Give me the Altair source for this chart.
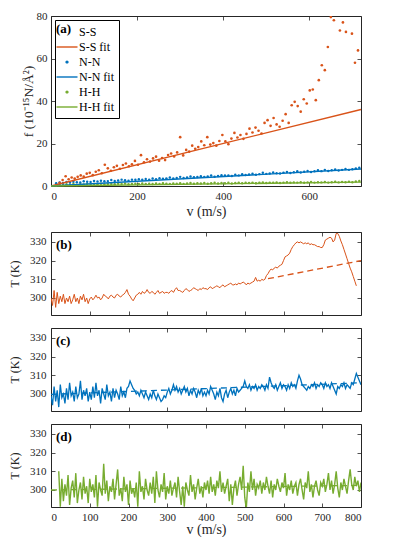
import altair as alt
import pandas as pd

ORANGE = "#D95319"
BLUE = "#0072BD"
GREEN = "#77AC30"
AX = "#262626"
FONT = "Liberation Serif"

# ---------------- panel (a) data ----------------
ss_v = list(range(20, 720, 7))
ss_f = [1.5, 2.8, 4.6, 3.2, 4.0, 3.5, 4.3, 5.0, 4.4, 5.8,
        6.2, 5.1, 6.7, 7.4, 6.0, 10.0, 8.3, 7.2, 8.8, 9.5,
        8.1, 9.9, 10.6, 9.3, 10.2, 11.8, 10.0, 14.5, 11.2, 12.6,
        11.5, 13.0, 13.8, 11.9, 13.2, 12.2, 14.6, 15.3, 13.9, 15.8,
        23.0, 14.4, 17.0, 16.2, 19.0, 17.5, 18.3, 21.0, 19.2, 23.0,
        19.5, 20.2, 19.0, 21.2, 24.0, 21.0, 19.7, 22.3, 25.0, 22.8,
        24.0, 22.2, 24.5, 27.0, 25.2, 27.5, 26.0, 24.7, 29.7, 31.0,
        28.3, 32.0, 29.0, 27.9, 30.7, 33.8, 29.7, 38.0, 39.6, 37.6,
        35.0, 40.8, 38.8, 45.0, 45.4, 40.4, 49.8, 56.8, 54.5, 65.4,
        79.5, 78.0, 83.0, 73.2, 77.0, 72.5, 86.0, 71.7, 58.0, 63.8]

nn_v = list(range(12, 720, 8))
nn_f = [1.3, 1.7, 1.4, 1.9, 1.6, 2.0, 1.8, 1.7, 2.2, 2.0, 1.9, 2.4, 2.1, 2.5, 2.2, 2.3, 2.8, 2.4, 2.6, 3.0, 2.7, 2.5, 3.0, 2.9, 3.2,
        2.9, 3.3, 3.0, 3.5, 3.2, 3.7, 3.4, 3.6, 4.0, 3.5, 3.8, 4.3, 3.8, 4.0, 4.5, 4.1, 4.2, 4.6, 4.3, 4.5, 4.9, 4.4, 4.7, 5.1, 4.9,
        5.0, 4.7, 5.3, 5.0, 5.5, 5.2, 5.4, 5.8, 5.3, 5.6, 6.2, 5.7, 5.9, 6.4, 6.0, 5.9, 6.3, 6.6, 6.1, 6.5, 6.9, 6.4, 6.7, 7.1, 6.6,
        6.9, 7.4, 7.0, 7.6, 7.1, 7.4, 7.8, 7.3, 7.6, 8.0, 7.6, 7.9, 8.3, 8.6]

hh_v = list(range(12, 720, 8))
hh_f = [0.4, 0.7, 0.5, 0.8, 0.6, 0.9, 0.5, 0.8, 0.7, 1.0, 0.6, 0.9, 0.8, 1.1, 0.7, 0.9, 1.0, 0.8, 1.1, 0.9, 1.2, 0.8, 1.0, 1.1, 0.9,
        1.2, 1.0, 1.1, 0.9, 1.2, 1.0, 1.3, 1.1, 1.0, 1.2, 1.1, 1.3, 1.0, 1.2, 1.4, 1.1, 1.3, 1.2, 1.4, 1.1, 1.3, 1.5, 1.2, 1.4, 1.3,
        1.5, 1.2, 1.4, 1.6, 1.3, 1.5, 1.4, 1.6, 1.3, 1.5, 1.7, 1.4, 1.6, 1.5, 1.7, 1.4, 1.6, 1.8, 1.5, 1.7, 1.6, 1.8, 1.5, 1.7, 1.9,
        1.6, 1.8, 1.7, 1.9, 1.6, 1.8, 2.0, 1.7, 1.9, 1.8, 2.0, 1.8, 2.1, 2.4]

fit_v = [0, 720]
ss_fit_f = [0.0, 36.0]
nn_fit_f = [0.0, 8.0]
hh_fit_f = [0.0, 1.8]

legend_names = ["S-S", "S-S fit", "N-N", "N-N fit", "H-H", "H-H fit"]
legend_colors = [ORANGE, ORANGE, BLUE, BLUE, GREEN, GREEN]

# ---------------- panels (b)-(d) data ----------------
tb_v = list(range(0, 792, 4))
tb_T = [300, 296, 304, 295, 303, 297, 301, 298, 302, 297, 300, 298, 301, 297, 299, 302, 298, 300, 297, 301, 299, 302, 298, 300, 297,
        299.5, 300.5, 299, 300, 301.5, 300, 300.5, 299, 300, 302, 301, 300.5, 299.5, 301, 301.5, 300.5, 300, 301.5, 302, 301, 300.5, 301.5, 302, 303, 304.5,
        302, 301, 299.5, 298.5, 300, 301.5, 302, 303, 302, 303.5, 302.5, 303, 304.5, 303, 302.5, 303.5, 303, 302, 303, 304, 302.5, 303, 303.5, 302.5, 303,
        303, 302.5, 303.5, 304, 303, 304.5, 305.5, 304, 304, 303.5, 303, 304, 305, 304.5, 303.5, 304, 304.5, 305.5, 305, 304.5, 304, 305, 304.5, 305.5, 305,
        305, 304.5, 305.5, 306, 305, 305.5, 306, 306.5, 306, 305.5, 306.5, 307, 306, 306.5, 307, 307.5, 308, 307, 307, 307.5, 307, 308, 307.5, 308, 308.5,
        308, 307, 308, 307.5, 308, 308.5, 309, 311, 309, 309.5, 309, 310, 309.5, 310, 312, 313, 314.5, 315.5, 315, 316, 316.5, 316, 317, 317.5, 318,
        320, 322, 322.5, 323, 324, 326, 327.5, 328.5, 329.5, 330, 329.5, 330, 329.5, 329, 329.5, 329, 329.5, 328.5, 329, 328.5, 328.5, 328, 327.5, 327.5, 327,
        327, 328.5, 331, 331.5, 332, 332.5, 332, 330, 331, 334.5, 334.5, 333, 330.5, 328.5, 326, 323.5, 321, 318.5, 316, 314, 311.5, 309, 306.5]
tb_fit_v = [560, 800]
tb_fit_T = [310.3, 320.0]

tc_v = list(range(0, 804, 4))
tc_T = [299, 294, 304, 296, 302, 293, 305, 298, 300, 295, 303, 297, 306, 299, 301, 296, 304, 298, 300, 307, 297, 302, 299, 303, 296,
        301, 297, 304, 298, 306, 299, 302, 295, 303, 300, 297, 305, 299, 301, 296, 303, 298, 302, 300, 297, 304, 299, 301, 298, 303,
        304, 307, 305, 303, 302, 300, 301, 299, 302, 300, 298, 301, 299, 297, 300, 298, 302, 299, 297, 300, 298, 296, 297, 299, 298,
        301, 303, 300, 302, 305, 302, 304, 301, 303, 300, 302, 304, 301, 303, 299, 302, 300, 303, 301, 298, 302, 300, 303, 299, 301,
        299, 302, 300, 304, 302, 300, 297, 301, 299, 303, 298, 296, 300, 302, 298, 301, 303, 300, 302, 299, 303, 301, 302, 303, 304,
        307, 304, 303, 305, 302, 304, 303, 305, 302, 304, 303, 305, 304, 302, 305, 303, 309, 306, 304, 303, 305, 302, 304, 306, 303,
        305, 304, 302, 305, 303, 306, 304, 305, 303, 307, 310, 308, 305, 304, 303, 302, 304, 303, 305, 304, 306, 303, 305, 304, 306,
        305, 303, 306, 304, 305, 303, 306, 304, 302, 300, 304, 303, 305, 304, 306, 303, 305, 304, 303, 306, 305, 308, 311, 309, 307, 305]
tc_fit_v = [0, 800]
tc_fit_T = [299.8, 306.0]

td_v = list(range(20, 804, 4))
td_T = [310, 291, 306, 294, 303, 297, 308, 292, 301, 305, 296, 309, 293, 300, 304, 295, 307, 298, 302, 293, 306, 299, 303, 296, 308,
        291, 304, 300, 297, 314, 298, 305, 294, 302, 299, 306, 295, 303, 311, 297, 301, 294, 307, 299, 303, 292, 305, 298, 301, 296,
        304, 291, 310, 299, 302, 295, 306, 300, 297, 304, 298, 307, 293, 310, 300, 296, 303, 299, 309, 295, 302, 298, 305, 297, 301,
        304, 296, 307, 299, 292, 302, 291, 304, 300, 297, 308, 299, 303, 295, 301, 306, 298, 302, 296, 304, 300, 305, 298, 307, 299,
        303, 297, 305, 301, 310, 299, 304, 298, 302, 306, 294, 303, 292, 301, 305, 297, 303, 307, 300, 313, 296, 290, 304, 299, 310,
        300, 306, 297, 303, 301, 305, 298, 304, 300, 307, 302, 298, 305, 296, 303, 300, 306, 302, 299, 304, 301, 309, 297, 303, 300,
        305, 298, 302, 304, 297, 303, 306, 300, 295, 304, 301, 310, 299, 303, 296, 302, 305, 300, 297, 304, 302, 306, 299, 303, 309,
        300, 305, 298, 303, 310, 301, 296, 304, 300, 306, 302, 298, 305, 311, 303, 300, 307, 302, 305, 299, 304]
td_fit_v = [0, 800]
td_fit_T = [300.0, 302.5]

# ---------------- helpers ----------------
W = 310
HA = 170
HT = 83


def mirror_axis(orient, values):
    # inward ticks only, no labels, no title (MATLAB "box on" look)
    return alt.Axis(orient=orient, values=values, domain=False, offset=-4, tickSize=4,
                    tickWidth=0.8, tickColor=AX, grid=False, labels=False, title=None)


def label_axis(orient, values, title_size, title_pad, label_pad=4):
    return alt.Axis(orient=orient, values=values, domain=False, offset=-4, tickSize=4, tickWidth=0.8,
                    tickColor=AX, grid=False, labels=True, titleFont=FONT, titleFontSize=title_size,
                    titleColor=AX, titleFontWeight="normal", titlePadding=title_pad,
                    labelFont=FONT, labelFontSize=11, labelColor=AX, labelPadding=label_pad)


def panel_label(txt):
    return alt.Chart(pd.DataFrame({"t": [txt]})).mark_text(
        font=FONT, fontSize=13, fontWeight="bold", align="left", baseline="middle", color="black"
    ).encode(x=alt.value(5), y=alt.value(13), text="t:N")


# ---------------- panel (a) ----------------
xa = alt.Scale(domain=[0, 720], nice=False)
ya = alt.Scale(domain=[0, 80], nice=False)
ticks_a_x = [0, 200, 400, 600]
ticks_a_y = [0, 20, 40, 60, 80]

ss_df = pd.DataFrame({"v": ss_v, "f": ss_f})
nn_df = pd.DataFrame({"v": nn_v, "f": nn_f})
hh_df = pd.DataFrame({"v": hh_v, "f": hh_f})

hh_pts = alt.Chart(hh_df).mark_circle(size=6, color=GREEN, opacity=1).encode(
    x=alt.X("v:Q", scale=xa, axis=label_axis("bottom", ticks_a_x, 14, 3), title="v (m/s)"),
    y=alt.Y("f:Q", scale=ya, axis=label_axis("left", ticks_a_y, 13.5, 1), title="f (10⁻¹⁵N/Å²)"),
)
nn_pts = alt.Chart(nn_df).mark_circle(size=6, color=BLUE, opacity=1).encode(
    x=alt.X("v:Q", scale=xa, axis=None), y=alt.Y("f:Q", scale=ya, axis=None))
ss_pts = alt.Chart(ss_df).mark_circle(size=7, color=ORANGE, opacity=1, clip=True).encode(
    x=alt.X("v:Q", scale=xa, axis=None), y=alt.Y("f:Q", scale=ya, axis=None))


def fit_line(vals, color, mirror=False):
    df = pd.DataFrame({"v": fit_v, "f": vals})
    if mirror:
        ex = alt.X("v:Q", scale=xa, axis=mirror_axis("top", ticks_a_x), title=None)
        ey = alt.Y("f:Q", scale=ya, axis=mirror_axis("right", ticks_a_y), title=None)
    else:
        ex = alt.X("v:Q", scale=xa, axis=None)
        ey = alt.Y("f:Q", scale=ya, axis=None)
    return alt.Chart(df).mark_line(strokeWidth=1.3, color=color).encode(x=ex, y=ey)


BLANK = "M0,0Z"
DOT = "M0.23,0A0.23,0.23 0 1,1 -0.23,0A0.23,0.23 0 1,1 0.23,0Z"
LINE = "M-1.5,-0.1H1.5V0.1H-1.5Z"
# legend-only layer: its points sit outside the domain and are clipped away
legend_df = pd.DataFrame({"series": legend_names, "v": [-1000] * 6, "f": [-1000] * 6})
leg = alt.Legend(title=None, orient="top-left", offset=4, strokeColor="black", fillColor="transparent",
                 padding=5, labelFont=FONT, labelFontSize=12, labelColor="black", symbolSize=196,
                 symbolStrokeWidth=0, labelOffset=5, rowPadding=2)
legend_layer = alt.Chart(legend_df).mark_point(filled=True, size=196, opacity=1, clip=True).encode(
    x=alt.X("v:Q", scale=xa, axis=None),
    y=alt.Y("f:Q", scale=ya, axis=None),
    color=alt.Color("series:N", scale=alt.Scale(domain=legend_names, range=legend_colors), legend=leg),
    shape=alt.Shape("series:N", scale=alt.Scale(domain=legend_names, range=[BLANK, LINE, DOT, LINE, DOT, LINE]),
                    legend=leg),
)

chart_a = alt.layer(
    hh_pts, nn_pts, ss_pts,
    fit_line(ss_fit_f, ORANGE, mirror=True), fit_line(nn_fit_f, BLUE), fit_line(hh_fit_f, GREEN),
    legend_layer, panel_label("(a)"),
).resolve_axis(x="independent", y="independent").properties(width=W, height=HA)

# ---------------- panels (b)-(d) ----------------
xt = alt.Scale(domain=[0, 800], nice=False)
yt = alt.Scale(domain=[290.9, 335.3], nice=False)
ticks_t_x = [0, 100, 200, 300, 400, 500, 600, 700, 800]
ticks_t_y = [300, 310, 320, 330]


def t_panel(v, T, fv, fT, color, label, bottom_labels, sw):
    df = pd.DataFrame({"v": v, "T": T})
    fdf = pd.DataFrame({"v": fv, "T": fT})
    if bottom_labels:
        xb = label_axis("bottom", ticks_t_x, 14, 0)
        xtitle = "v (m/s)"
    else:
        xb = mirror_axis("bottom", ticks_t_x)
        xtitle = None
    yl = label_axis("left", ticks_t_y, 12, 8, label_pad=5)
    line = alt.Chart(df).mark_line(color=color, strokeWidth=sw, clip=True).encode(
        x=alt.X("v:Q", scale=xt, axis=xb, title=xtitle),
        y=alt.Y("T:Q", scale=yt, axis=yl, title="T (K)"),
    )
    dash = alt.Chart(fdf).mark_line(color=color, strokeWidth=1.3, strokeDash=[6, 4], clip=True).encode(
        x=alt.X("v:Q", scale=xt, axis=mirror_axis("top", ticks_t_x), title=None),
        y=alt.Y("T:Q", scale=yt, axis=mirror_axis("right", ticks_t_y), title=None),
    )
    return alt.layer(dash, line, panel_label(label)).resolve_axis(
        x="independent", y="independent").properties(width=W, height=HT)


chart_b = t_panel(tb_v, tb_T, tb_fit_v, tb_fit_T, ORANGE, "(b)", False, 1.0)
chart_c = t_panel(tc_v, tc_T, tc_fit_v, tc_fit_T, BLUE, "(c)", False, 1.3)
chart_d = t_panel(td_v, td_T, td_fit_v, td_fit_T, GREEN, "(d)", True, 1.4)

lower = alt.vconcat(chart_b, chart_c, chart_d, spacing=11)
chart = alt.vconcat(chart_a, lower, spacing=12).properties(
    padding={"top": 1, "left": 0, "right": 5, "bottom": 0}, background="white"
).resolve_legend(color="independent", shape="independent").configure_view(stroke=AX, strokeWidth=1)

chart.save("out.html", embed_options={"renderer": "svg", "actions": False})
